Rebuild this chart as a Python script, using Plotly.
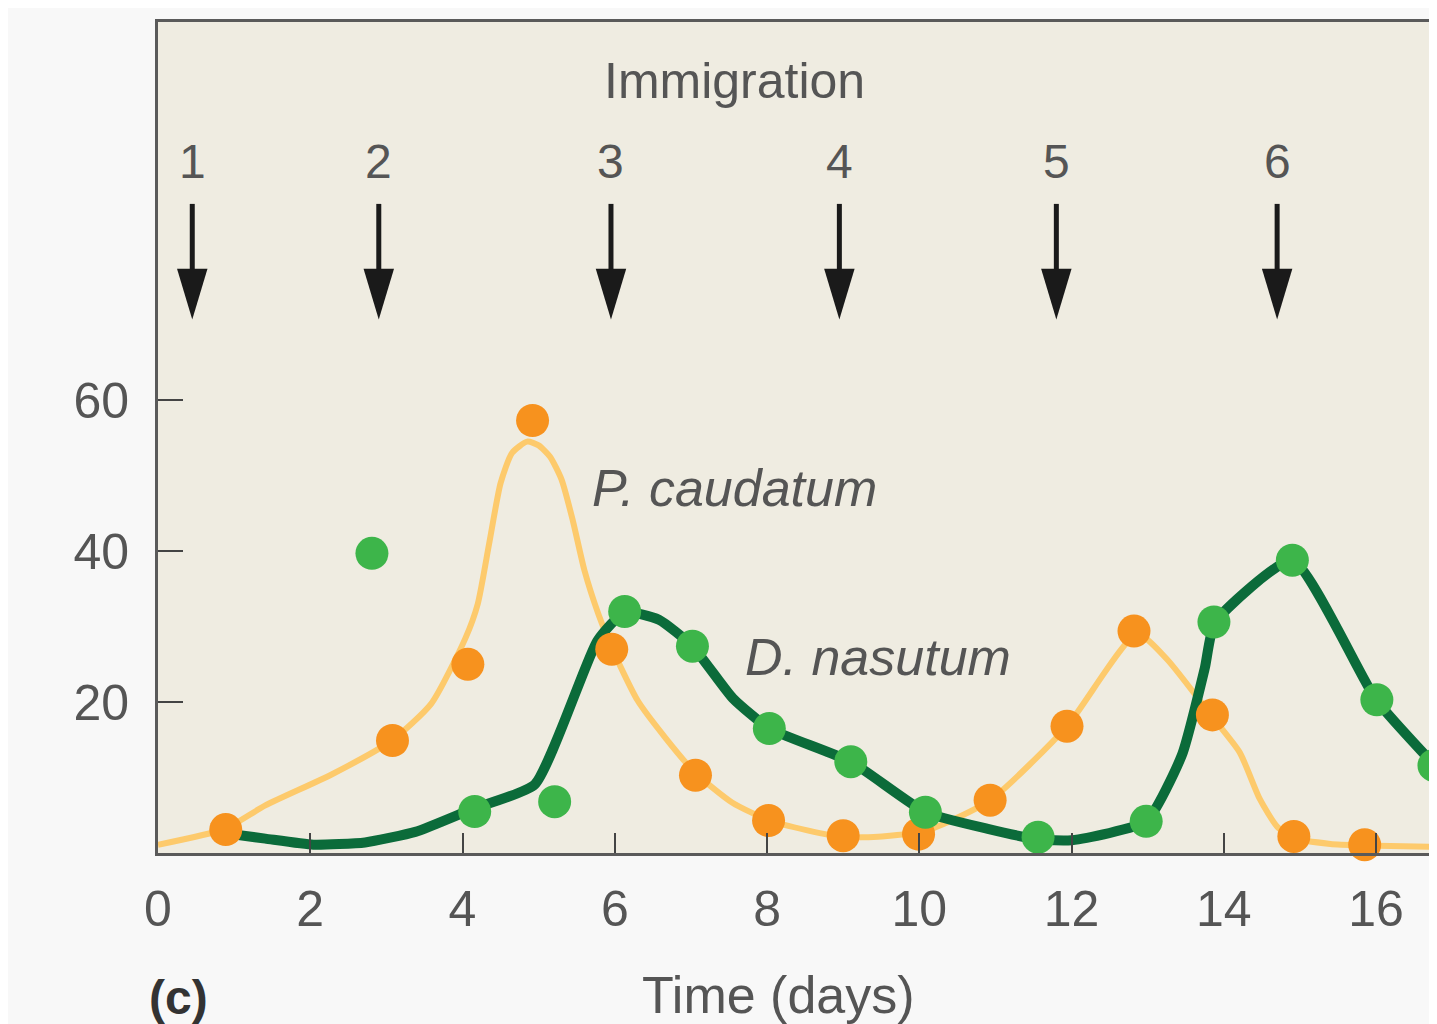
import plotly.graph_objects as go

# Observed counts (days, number of cells)
p_days = [0.89, 3.08, 4.07, 4.92, 5.96, 7.06, 8.02, 9.0, 9.99, 10.93, 11.94, 12.82, 13.85, 14.92, 15.85]
p_counts = [3.1, 14.9, 25.0, 57.3, 27.0, 10.3, 4.3, 2.3, 2.5, 7.0, 16.8, 29.4, 18.3, 2.2, 1.1]

d_days = [2.81, 4.16, 5.21, 6.13, 7.02, 8.03, 9.1, 10.08, 11.56, 12.98, 13.87, 14.9, 16.01, 16.76]
d_counts = [39.7, 5.5, 6.8, 32.0, 27.4, 16.5, 12.1, 5.4, 2.1, 4.2, 30.6, 38.8, 20.3, 11.6]

# Fitted curves as drawn
p_curve_x = [0, 0.88, 1.41, 2.28, 3.07, 3.59, 4.04, 4.2, 4.35, 4.5, 4.65, 4.85, 5.0, 5.15, 5.3,
             5.45, 5.6, 5.79, 5.96, 6.3, 6.67, 7.06, 7.54, 8.03, 8.53, 9.0, 9.51, 10.1, 10.93,
             11.94, 12.86, 13.25, 13.85, 14.21, 14.47, 14.7, 14.92, 15.4, 15.85, 16.8]
p_curve_y = [1.1, 3.2, 6.3, 10.4, 14.9, 19.8, 28.5, 33.0, 41.0, 49.0, 53.0, 54.5, 54.0, 52.5, 49.5,
             44.0, 37.5, 31.5, 27.2, 20.2, 15.2, 10.6, 6.7, 4.3, 3.0, 2.1, 2.2, 3.0, 7.0,
             16.8, 29.0, 25.7, 18.0, 13.3, 7.2, 3.5, 2.0, 1.2, 1.0, 0.8]

d_curve_x = [0.89, 1.41, 2.04, 2.72, 3.38, 4.12, 4.95, 5.77, 6.13, 6.58, 7.02, 7.55, 8.03, 9.1,
             10.08, 10.9, 11.56, 12.0, 12.98, 13.45, 13.75, 13.88, 14.9, 16.0, 16.8]
d_curve_y = [2.6, 1.9, 1.1, 1.4, 2.8, 5.8, 9.1, 28.1, 31.9, 30.9, 27.4, 20.5, 16.5, 12.1,
             5.4, 3.2, 1.8, 1.7, 4.2, 13.0, 24.5, 30.5, 38.8, 20.3, 11.3]

# Immigration events
imm_labels = ['1', '2', '3', '4', '5', '6']
imm_days = [0.45, 2.9, 5.95, 8.95, 11.8, 14.7]

x_ticks = [0, 2, 4, 6, 8, 10, 12, 14, 16]
y_ticks = [20, 40, 60]

FONT = 'Liberation Sans, Arial, sans-serif'
TXT = '#555555'

fig = go.Figure()
fig.add_trace(go.Scatter(x=p_curve_x, y=p_curve_y, mode='lines',
                         line=dict(color='#fdca6c', width=6, shape='spline', smoothing=0.6),
                         hoverinfo='skip'))
fig.add_trace(go.Scatter(x=d_curve_x, y=d_curve_y, mode='lines',
                         line=dict(color='#0b6b3a', width=10, shape='spline', smoothing=0.5),
                         hoverinfo='skip'))
fig.add_trace(go.Scatter(x=p_days, y=p_counts, mode='markers', name='P. caudatum',
                         marker=dict(color='#f7921e', size=33), cliponaxis=False))
fig.add_trace(go.Scatter(x=d_days, y=d_counts, mode='markers', name='D. nasutum',
                         marker=dict(color='#3db54a', size=33), cliponaxis=False))

# immigration arrows
tip, base, top = 70.7, 77.4, 86.0
hw = 0.2
shapes = []
for d in imm_days:
    shapes.append(dict(type='line', xref='x', yref='y', x0=d, x1=d, y0=base - 1, y1=top,
                       line=dict(color='#1a1a1a', width=5)))
    shapes.append(dict(type='path', xref='x', yref='y',
                       path=f'M{d - hw},{base} L{d + hw},{base} L{d},{tip} Z',
                       fillcolor='#1a1a1a', line=dict(width=0)))

annotations = []
for lab, d in zip(imm_labels, imm_days):
    annotations.append(dict(x=d, y=91.6, xref='x', yref='y', text=lab, showarrow=False,
                            font=dict(family=FONT, size=48, color=TXT)))
annotations += [
    dict(x=7.57, y=102.3, xref='x', yref='y', text='Immigration', showarrow=False,
         font=dict(family=FONT, size=50, color=TXT)),
    dict(x=5.68, y=48.3, xref='x', yref='y', text='<i>P. caudatum</i>', showarrow=False,
         xanchor='left', font=dict(family=FONT, size=52, color=TXT)),
    dict(x=7.68, y=26.0, xref='x', yref='y', text='<i>D. nasutum</i>', showarrow=False,
         xanchor='left', font=dict(family=FONT, size=52, color=TXT)),
    dict(x=8.15, y=0, xref='x', yref='paper', yshift=-142, yanchor='middle', text='Time (days)',
         showarrow=False, font=dict(family=FONT, size=52, color=TXT)),
    dict(x=0.27, y=0, xref='x', yref='paper', yshift=-144, yanchor='middle', text='<b>(c)</b>',
         showarrow=False, font=dict(family=FONT, size=48, color='#333333')),
]

# page body adds 8px margin, so shrink the figure to fit the window
fig.update_layout(
    width=1429, height=1016,
    margin=dict(l=150, r=0, t=14, b=171),
    paper_bgcolor='#f8f8f8', plot_bgcolor='#efece1',
    showlegend=False,
    shapes=shapes, annotations=annotations,
)
fig.update_xaxes(range=[0, 16.8], tickvals=x_ticks, ticks='inside', ticklen=20, tickwidth=2,
                 tickcolor='#444444', showline=True, linecolor='#5a5a5a', linewidth=3, mirror=True,
                 showgrid=False, zeroline=False, ticklabelstandoff=10,
                 tickfont=dict(family=FONT, size=50, color=TXT))
fig.update_yaxes(range=[0, 110.1], tickvals=y_ticks, ticks='inside', ticklen=25, tickwidth=2,
                 tickcolor='#444444', showline=True, linecolor='#5a5a5a', linewidth=3, mirror=False,
                 showgrid=False, zeroline=False, ticklabelstandoff=16,
                 tickfont=dict(family=FONT, size=50, color=TXT))

fig.write_html("out.html")
